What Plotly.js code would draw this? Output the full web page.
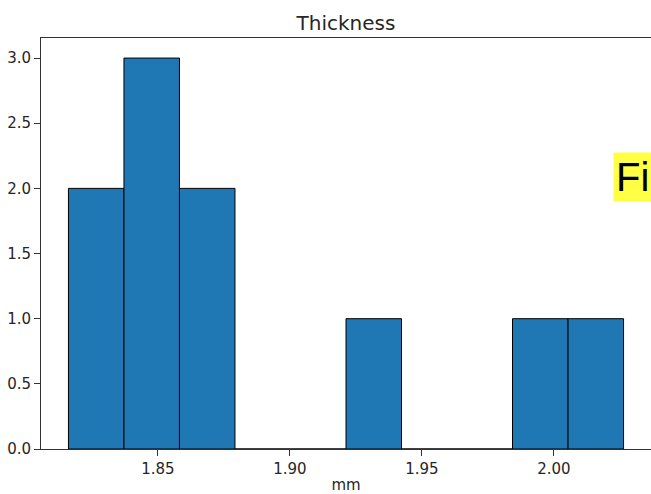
<!DOCTYPE html>
<html>
<head>
<meta charset="utf-8">
<script src="https://cdn.plot.ly/plotly-3.0.1.min.js"></script>
<style>html,body{margin:0;padding:0;background:#fff;}#chart{width:651px;height:494px;}</style>
</head>
<body>
<div id="chart"></div>
<script>
// Histogram of thickness (mm), 10 bins
const binStart = 1.8161;
const binWidth = 0.02103;
const counts = [2, 3, 2, 0, 0, 1, 0, 0, 1, 1];
const xTickVals = [1.85, 1.90, 1.95, 2.00];
const yTickVals = [0.0, 0.5, 1.0, 1.5, 2.0, 2.5, 3.0];

const centers = counts.map((c, i) => binStart + (i + 0.5) * binWidth);

const trace = {
  type: 'bar',
  x: centers,
  y: counts,
  width: counts.map(() => binWidth),
  marker: {color: '#1f77b4', line: {color: '#000000', width: 1}},
  hoverinfo: 'x+y'
};

const font = {family: 'DejaVu Sans, sans-serif', color: '#262626'};

const layout = {
  width: 651, height: 494,
  margin: {l: 41, r: 0, t: 38, b: 45, pad: 0},
  paper_bgcolor: '#ffffff', plot_bgcolor: '#ffffff',
  showlegend: false,
  bargap: 0,
  title: {text: 'Thickness', font: Object.assign({size: 20}, font), x: 0.5315, xanchor: 'center', y: 1 - 23/494, yanchor: 'middle', yref: 'container'},
  xaxis: {
    range: [1.8057, 2.0368],
    tickvals: xTickVals, tickformat: '.2f',
    ticks: 'outside', ticklen: 6, tickwidth: 1, tickcolor: '#333',
    showline: true, mirror: true, linecolor: '#333', linewidth: 1,
    showgrid: false, zeroline: false,
    tickfont: Object.assign({size: 15}, font),
    title: {text: 'mm', font: Object.assign({size: 15}, font), standoff: 8},
    automargin: false
  },
  yaxis: {
    range: [0, 3.154],
    tickvals: yTickVals, tickformat: '.1f',
    ticks: 'outside', ticklen: 6, tickwidth: 1, tickcolor: '#333',
    showline: true, mirror: true, linecolor: '#333', linewidth: 1,
    showgrid: false, zeroline: false,
    tickfont: Object.assign({size: 15}, font),
    automargin: false
  },
  annotations: [{
    text: 'Fi', xref: 'paper', yref: 'paper',
    x: (613 - 41) / 610, xanchor: 'left',
    y: (449 - 177) / 411, yanchor: 'middle',
    showarrow: false,
    font: {family: 'Liberation Sans, Arial, sans-serif', size: 40, color: '#000000'},
    bgcolor: '#ffff44', borderpad: 2
  }]
};

Plotly.newPlot('chart', [trace], layout, {displayModeBar: false, staticPlot: true});
</script>
</body>
</html>
